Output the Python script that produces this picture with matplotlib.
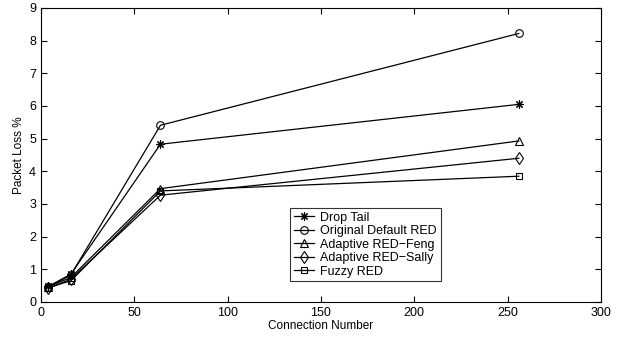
import matplotlib
matplotlib.use('Agg')
import matplotlib.pyplot as plt

plt.rcParams['font.family'] = ['Liberation Sans', 'DejaVu Sans']

# connection counts and packet loss (%) per scheme
connections = [4, 16, 64, 256]
drop_tail = [0.48, 0.85, 4.83, 6.05]
orig_red = [0.45, 0.83, 5.41, 8.22]
ared_feng = [0.47, 0.75, 3.47, 4.93]
ared_sally = [0.42, 0.70, 3.27, 4.40]
fuzzy_red = [0.44, 0.65, 3.40, 3.85]

labels = ['Drop Tail', 'Original Default RED', 'Adaptive RED\u2212Feng',
          'Adaptive RED\u2212Sally', 'Fuzzy RED']
series = [drop_tail, orig_red, ared_feng, ared_sally, fuzzy_red]
markers = [(8, 2, 0), 'o', '^', 'd', 's']
msizes = [6, 5.5, 6, 6.5, 4.5]

fig = plt.figure(figsize=(6.27, 3.40), dpi=100)
ax = fig.add_axes([0.0654, 0.1118, 0.893, 0.8647])

for ys, lab, m, ms in zip(series, labels, markers, msizes):
    ax.plot(connections, ys, color='black', linewidth=0.9, marker=m,
            markersize=ms, markerfacecolor='none', markeredgecolor='black',
            markeredgewidth=0.8, label=lab)

ax.set_xlim(0, 300)
ax.set_ylim(0, 9)
ax.set_xticks(range(0, 301, 50))
ax.set_yticks(range(0, 10))
ax.tick_params(direction='in', top=True, right=True, labelsize=9,
               length=4, width=0.8)
for s in ax.spines.values():
    s.set_linewidth(0.8)
ax.set_xlabel('Connection Number', fontsize=8.5, labelpad=1)
ax.set_ylabel('Packet Loss %', fontsize=8.5, labelpad=3)

leg = ax.legend(loc='upper left', bbox_to_anchor=(0.445, 0.32), fontsize=9,
                frameon=True, fancybox=False, edgecolor='black',
                handlelength=1.6, handletextpad=0.5, borderpad=0.3,
                labelspacing=0.12, borderaxespad=0)
leg.get_frame().set_linewidth(0.8)

fig.savefig('out.png', dpi=100)
